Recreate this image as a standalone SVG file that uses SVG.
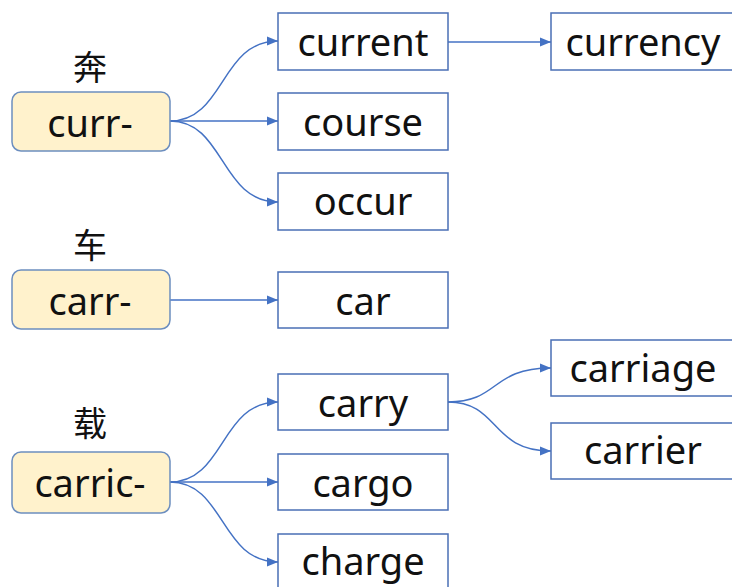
<svg xmlns="http://www.w3.org/2000/svg" width="732" height="587" viewBox="0 0 732 587">
<defs>
<marker id="arr" markerUnits="userSpaceOnUse" markerWidth="12" markerHeight="10" refX="11" refY="5" orient="auto">
<path d="M0,0.5 L11,5 L0,9.5 Z" fill="#4472C4"/>
</marker>
</defs>
<style>
.root{fill:#FFF2CC;stroke:#6C8EBF;stroke-width:1.5}
.box{fill:#FFFFFF;stroke:#4A6FB5;stroke-width:1.5}
.t{font-family:"Noto Sans","Open Sans",sans-serif;font-size:38px;fill:#111;text-anchor:middle}
.zh{font-family:"Noto Sans CJK SC",sans-serif;font-size:34px;fill:#111;text-anchor:middle}
.c{fill:none;stroke:#4472C4;stroke-width:1.5;marker-end:url(#arr)}
</style>
<rect width="732" height="587" fill="#FFFFFF"/>
<g id="connectors">
<path class="c" d="M170,121 C225,121 220,41 278,41"/>
<path class="c" d="M170,121 L278,121"/>
<path class="c" d="M170,121 C225,121 220,202 278,202"/>
<path class="c" d="M448,42 L551,42"/>
<path class="c" d="M170,300 L278,300"/>
<path class="c" d="M170,482 C225,482 220,402 278,402"/>
<path class="c" d="M170,482 L278,482"/>
<path class="c" d="M170,482 C225,482 220,562 278,562"/>
<path class="c" d="M448,402 C500,402 490,368 551,368"/>
<path class="c" d="M448,402 C500,402 490,451 551,451"/>
</g>
<g id="label-ben"><text class="zh" x="90" y="80">奔</text></g>
<g id="label-che"><text class="zh" x="90" y="258">车</text></g>
<g id="label-zai"><text class="zh" x="90" y="436">载</text></g>
<g id="node-curr"><rect class="root" x="12" y="92" width="158" height="59" rx="9"/><text class="t" x="90" y="137">curr-</text></g>
<g id="node-carr"><rect class="root" x="12" y="270" width="158" height="59" rx="9"/><text class="t" x="90" y="315">carr-</text></g>
<g id="node-carric"><rect class="root" x="12" y="452" width="158" height="61" rx="9"/><text class="t" x="90" y="497">carric-</text></g>
<g id="node-current"><rect class="box" x="278" y="13" width="170" height="57"/><text class="t" x="363" y="56">current</text></g>
<g id="node-course"><rect class="box" x="278" y="93" width="170" height="57"/><text class="t" x="363" y="136">course</text></g>
<g id="node-occur"><rect class="box" x="278" y="173" width="170" height="57"/><text class="t" x="363" y="215">occur</text></g>
<g id="node-car"><rect class="box" x="278" y="272" width="170" height="56"/><text class="t" x="363" y="315">car</text></g>
<g id="node-carry"><rect class="box" x="278" y="374" width="170" height="56"/><text class="t" x="363" y="417">carry</text></g>
<g id="node-cargo"><rect class="box" x="278" y="454" width="170" height="56"/><text class="t" x="363" y="497">cargo</text></g>
<g id="node-charge"><rect class="box" x="278" y="534" width="170" height="60"/><text class="t" x="363" y="575">charge</text></g>
<g id="node-currency"><rect class="box" x="551" y="13" width="190" height="57"/><text class="t" x="643" y="56">currency</text></g>
<g id="node-carriage"><rect class="box" x="551" y="340" width="190" height="56"/><text class="t" x="643" y="382">carriage</text></g>
<g id="node-carrier"><rect class="box" x="551" y="423" width="190" height="56"/><text class="t" x="643" y="464">carrier</text></g>
</svg>
